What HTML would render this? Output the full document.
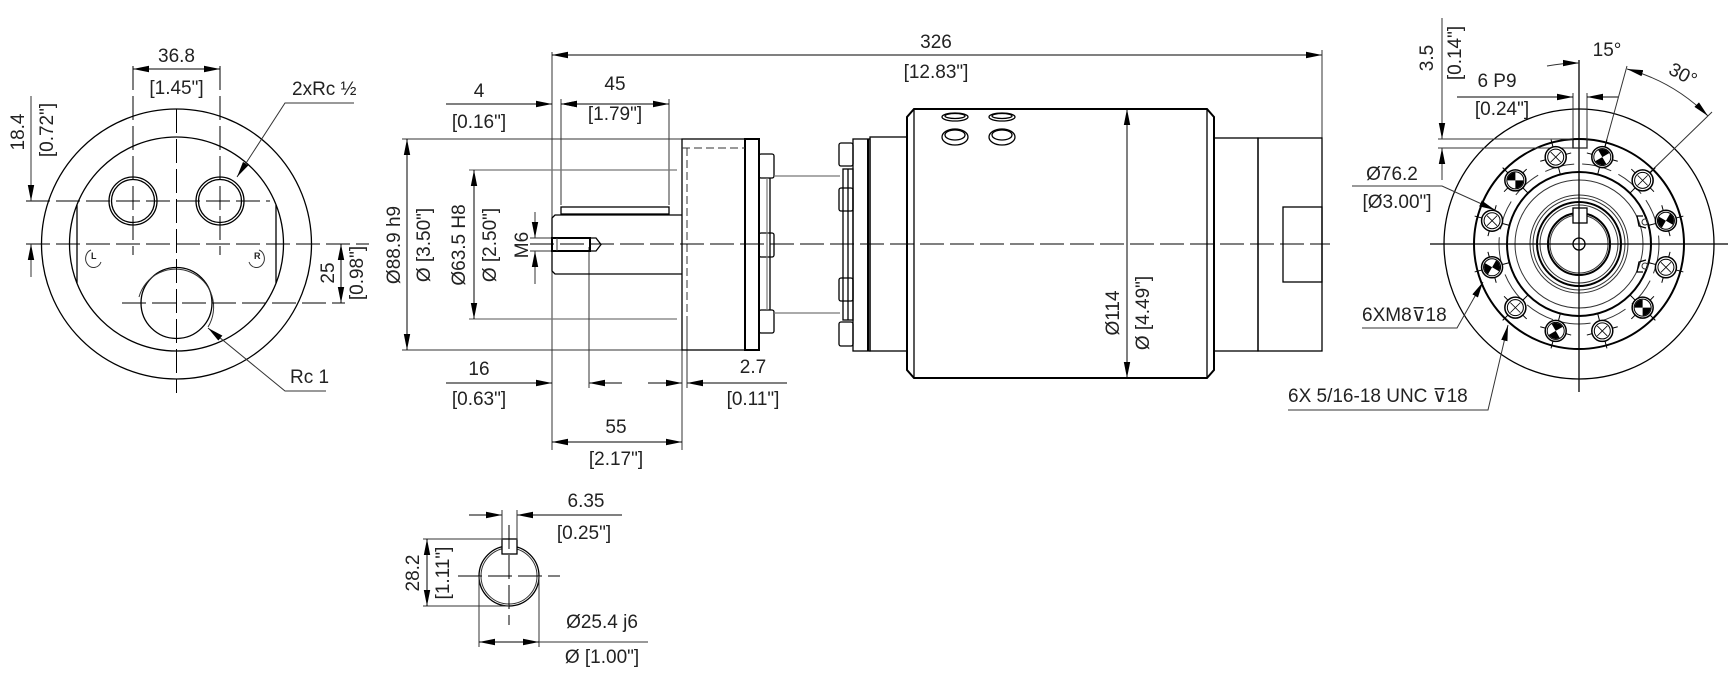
<!DOCTYPE html>
<html><head><meta charset="utf-8"><style>
html,body{margin:0;padding:0;background:#fff}
svg{display:block}
text{font-family:"Liberation Sans Narrow","Liberation Sans",sans-serif;font-size:19px;fill:#222}
.t{stroke:#000;stroke-width:1.3;fill:none}
.b{stroke:#000;stroke-width:2;fill:none}
.n{stroke:#333;stroke-width:1;fill:none}
.g{stroke:#777;stroke-width:1.2;fill:none}
.c{stroke:#000;stroke-width:1;fill:none;stroke-dasharray:24 6}
.d{stroke:#000;stroke-width:1;fill:none;marker-end:url(#a)}
.dd{stroke:#000;stroke-width:1;fill:none;marker-end:url(#a);marker-start:url(#a)}
</style></head><body>
<svg id="s" width="1736" height="678" viewBox="0 0 1736 678" xmlns="http://www.w3.org/2000/svg">
<defs><marker id="a" markerWidth="16" markerHeight="8" refX="16" refY="4" orient="auto-start-reverse" markerUnits="userSpaceOnUse"><path d="M0,0.8 L16,4 L0,7.2 Z" fill="#000"/></marker></defs>

<!-- LEFT VIEW -->
<circle class="t" cx="176.5" cy="244" r="135"/>
<circle class="t" cx="176.5" cy="244" r="107"/>
<circle class="t" cx="133" cy="201" r="24"/><circle class="t" cx="133" cy="201" r="21.5"/>
<circle class="t" cx="220" cy="201" r="24"/><circle class="t" cx="220" cy="201" r="21.5"/>
<circle class="t" cx="176.5" cy="303" r="35.5"/>
<path class="n" d="M139,297 A38,38 0 1 1 208,327"/>
<line class="t" x1="77" y1="205" x2="77" y2="283"/><line class="t" x1="276" y1="205" x2="276" y2="283"/>
<line class="c" x1="176.5" y1="109" x2="176.5" y2="393"/>
<line class="c" x1="26" y1="201" x2="270" y2="201"/>
<line class="c" x1="26" y1="244" x2="369" y2="244"/>
<line class="c" x1="122" y1="303" x2="345" y2="303"/>
<line class="c" x1="133" y1="66" x2="133" y2="255"/>
<line class="c" x1="220" y1="66" x2="220" y2="255"/>
<line class="dd" x1="133" y1="69" x2="220" y2="69"/>
<text x="176.5" y="62" text-anchor="middle">36.8</text>
<text x="176.5" y="94" text-anchor="middle">[1.45"]</text>
<line class="n" x1="31" y1="96" x2="31" y2="201" style="marker-end:url(#a)"/>
<line class="n" x1="31" y1="277" x2="31" y2="244" style="marker-end:url(#a)"/>
<text transform="translate(24,132) rotate(-90)" text-anchor="middle">18.4</text>
<text transform="translate(53,130) rotate(-90)" text-anchor="middle">[0.72"]</text>
<line class="dd" x1="341" y1="244" x2="341" y2="303"/>
<text transform="translate(334,273) rotate(-90)" text-anchor="middle">25</text>
<text transform="translate(363,273) rotate(-90)" text-anchor="middle">[0.98"]</text>
<polyline class="n" points="354,103 285,103 237,177" style="marker-end:url(#a)"/>
<text x="292" y="95">2xRc ½</text>
<polyline class="n" points="326,391 285,391 208,328" style="marker-end:url(#a)"/>
<text x="290" y="383">Rc 1</text>
<g class="n"><path d="M91,250 A8,9 0 1 0 101,262" /><path d="M259,250 A8,9 0 1 1 249,262"/></g>
<text x="91" y="259" style="font-size:9px;font-weight:bold">L</text>
<text x="254" y="259" style="font-size:9px;font-weight:bold">R</text>

<!-- MIDDLE VIEW -->
<line class="n" x1="552" y1="52" x2="552" y2="450"/>
<line class="dd" x1="552" y1="55" x2="1322" y2="55"/>
<line class="n" x1="1322" y1="50" x2="1322" y2="138"/>
<text x="936" y="48" text-anchor="middle">326</text>
<text x="936" y="78" text-anchor="middle">[12.83"]</text>
<line class="d" x1="446" y1="104" x2="552" y2="104"/>
<line class="d" x1="575" y1="104" x2="561" y2="104"/>
<text x="479" y="97" text-anchor="middle">4</text>
<text x="479" y="128" text-anchor="middle">[0.16"]</text>
<line class="n" x1="561" y1="99" x2="561" y2="205"/>
<line class="n" x1="669" y1="99" x2="669" y2="205"/>
<line class="dd" x1="561" y1="104" x2="669" y2="104"/>
<text x="615" y="90" text-anchor="middle">45</text>
<text x="615" y="120" text-anchor="middle">[1.79"]</text>
<line class="n" x1="402" y1="139" x2="682" y2="139"/>
<line class="n" x1="402" y1="350" x2="682" y2="350"/>
<line class="dd" x1="407" y1="139" x2="407" y2="350"/>
<text transform="translate(400,245) rotate(-90)" text-anchor="middle">Ø88.9 h9</text>
<text transform="translate(430,245) rotate(-90)" text-anchor="middle">Ø [3.50"]</text>
<line class="g" x1="469" y1="170" x2="677" y2="170"/>
<line class="g" x1="469" y1="319" x2="677" y2="319"/>
<line class="dd" x1="474" y1="170" x2="474" y2="319"/>
<text transform="translate(465,245) rotate(-90)" text-anchor="middle">Ø63.5 H8</text>
<text transform="translate(496,245) rotate(-90)" text-anchor="middle">Ø [2.50"]</text>
<line class="n" x1="535" y1="212" x2="535" y2="238" style="marker-end:url(#a)"/>
<line class="n" x1="535" y1="284" x2="535" y2="251" style="marker-end:url(#a)"/>
<line class="n" x1="530" y1="238" x2="560" y2="238"/><line class="n" x1="530" y1="251" x2="560" y2="251"/>
<text transform="translate(528,245) rotate(-90)" text-anchor="middle">M6</text>
<line class="d" x1="446" y1="383" x2="552" y2="383"/>
<line class="d" x1="622" y1="383" x2="589" y2="383"/>
<line class="n" x1="589" y1="247" x2="589" y2="388"/>
<text x="479" y="375" text-anchor="middle">16</text>
<text x="479" y="405" text-anchor="middle">[0.63"]</text>
<line class="d" x1="648" y1="383" x2="682" y2="383"/>
<line class="d" x1="787" y1="383" x2="687" y2="383"/>
<line class="n" x1="687" y1="320" x2="687" y2="388"/>
<text x="753" y="373" text-anchor="middle">2.7</text>
<text x="753" y="405" text-anchor="middle">[0.11"]</text>
<line class="n" x1="682" y1="350" x2="682" y2="450"/>
<line class="dd" x1="552" y1="442" x2="682" y2="442"/>
<text x="616" y="433" text-anchor="middle">55</text>
<text x="616" y="465" text-anchor="middle">[2.17"]</text>
<!-- shaft -->
<rect class="t" x="561" y="207" width="108" height="7"/>
<path class="t" d="M682,215 L555,215 L552,218 L552,271 L555,274 L682,274"/>
<rect class="b" x="552" y="238" width="38" height="13"/>
<path class="t" d="M590,238 L596,238 L601,244.5 L596,251 L590,251"/>
<line class="n" x1="557" y1="238" x2="557" y2="251"/>
<!-- flange -->
<rect class="t" x="682" y="139" width="63" height="211"/>
<rect class="b" x="745" y="139" width="14" height="211"/>
<path class="n" d="M682,148 L745,148 M687,148 L687,320" style="stroke-dasharray:8 4"/>
<g class="t">
<rect x="759" y="154" width="15" height="24" rx="2"/><rect x="759" y="233" width="15" height="24" rx="2"/><rect x="759" y="310" width="15" height="23" rx="2"/>
<line x1="767" y1="178" x2="767" y2="310" class="g"/><line x1="770" y1="178" x2="770" y2="310"/>
<line x1="774" y1="176" x2="840" y2="176" class="g"/><line x1="774" y1="313" x2="840" y2="313" class="g"/>
<rect x="839" y="143" width="14" height="23" rx="2"/><rect x="839" y="188" width="14" height="23" rx="2"/><rect x="839" y="278" width="14" height="23" rx="2"/><rect x="839" y="322" width="14" height="24" rx="2"/>
<rect x="843" y="169" width="10" height="151"/><line x1="848" y1="169" x2="848" y2="320"/>
<rect x="853" y="139" width="17" height="212"/>
<line x1="868" y1="139" x2="868" y2="351" class="b"/>
<rect x="870" y="137" width="37" height="214"/>
</g>
<!-- main cylinder -->
<path class="b" d="M914,109 L1207,109 L1214,117 L1214,370 L1207,378 L914,378 L907,370 L907,117 Z"/>
<line class="t" x1="914" y1="109" x2="914" y2="378"/><line class="t" x1="1207" y1="109" x2="1207" y2="378"/>
<g class="t">
<ellipse cx="955" cy="117" rx="13" ry="4"/><ellipse cx="955" cy="116" rx="10" ry="2.5"/>
<ellipse cx="1002" cy="117" rx="13" ry="4"/><ellipse cx="1002" cy="116" rx="10" ry="2.5"/>
<ellipse cx="955" cy="137" rx="13" ry="8"/><ellipse cx="955" cy="135" rx="10" ry="5"/>
<ellipse cx="1002" cy="137" rx="13" ry="8"/><ellipse cx="1002" cy="135" rx="10" ry="5"/>
</g>
<line class="dd" x1="1127" y1="109" x2="1127" y2="378"/>
<text transform="translate(1119,313) rotate(-90)" text-anchor="middle">Ø114</text>
<text transform="translate(1149,313) rotate(-90)" text-anchor="middle">Ø [4.49"]</text>
<rect class="t" x="1214" y="138" width="44" height="213"/>
<rect class="t" x="1258" y="138" width="64" height="213"/>
<rect class="t" x="1283" y="207" width="39" height="75"/>
<line class="c" x1="530" y1="244" x2="1330" y2="244"/>

<!-- RIGHT VIEW -->
<g id="rv">
<circle class="t" cx="1579" cy="244" r="135"/>
<circle class="b" cx="1579" cy="244" r="105"/>
<circle class="n" cx="1579" cy="244" r="80" style="stroke-dasharray:30 8"/>
<circle class="b" cx="1579" cy="244" r="72"/>
<circle class="n" cx="1579" cy="244" r="64"/>
<circle class="n" cx="1579" cy="244" r="49"/><circle class="n" cx="1579" cy="244" r="46"/>
<circle class="b" cx="1579" cy="244" r="42"/><circle class="n" cx="1579" cy="244" r="39"/>
<circle class="b" cx="1579" cy="244" r="31"/><circle class="n" cx="1579" cy="244" r="29"/>
<circle class="t" cx="1579" cy="244" r="6"/>
<rect class="t" x="1573" y="208" width="14" height="15" fill="#fff" style="fill:#fff"/>
<rect class="t" x="1573" y="139" width="14" height="9"/>
<line class="n" x1="1573" y1="93" x2="1573" y2="139"/><line class="n" x1="1587" y1="93" x2="1587" y2="148"/>
<line class="t" x1="1579" y1="60" x2="1579" y2="392"/>
<line class="t" x1="1430" y1="244" x2="1728" y2="244"/>
<path class="t" d="M1643,216 L1637,216 L1639,226 L1646,228 M1643,272 L1637,272 L1639,262 L1646,260"/>
<circle class="n" cx="1645" cy="222" r="3"/><circle class="n" cx="1645" cy="266" r="3"/>
</g>
<line class="n" x1="1442" y1="18" x2="1442" y2="139" style="marker-end:url(#a)"/>
<line class="n" x1="1442" y1="180" x2="1442" y2="148" style="marker-end:url(#a)"/>
<line class="n" x1="1438" y1="139" x2="1573" y2="139"/><line class="n" x1="1438" y1="148" x2="1587" y2="148"/>
<text transform="translate(1433,58) rotate(-90)" text-anchor="middle">3.5</text>
<text transform="translate(1461,53) rotate(-90)" text-anchor="middle">[0.14"]</text>
<line class="d" x1="1457" y1="97" x2="1573" y2="97"/>
<line class="d" x1="1618" y1="97" x2="1587" y2="97"/>
<text x="1497" y="87" text-anchor="middle">6 P9</text>
<text x="1502" y="115" text-anchor="middle">[0.24"]</text>
<path class="n" d="M1547,66 A181,181 0 0 1 1579,63" style="marker-end:url(#a)"/>
<path class="n" d="M1627,69 A181,181 0 0 1 1708,116" style="marker-end:url(#a);marker-start:url(#a)"/>
<line class="n" x1="1627" y1="66" x2="1602" y2="157"/>
<line class="n" x1="1712" y1="112" x2="1642" y2="180"/>
<text x="1607" y="56" text-anchor="middle">15°</text>
<text transform="translate(1680,80) rotate(28)" text-anchor="middle">30°</text>
<polyline class="n" points="1352,186 1442,186 1495,210" style="marker-end:url(#a)"/>
<text x="1392" y="180" text-anchor="middle">Ø76.2</text>
<text x="1397" y="208" text-anchor="middle">[Ø3.00"]</text>
<polyline class="n" points="1362,328 1457,328 1483,282" style="marker-end:url(#a)"/>
<text x="1362" y="321">6XM8⊽18</text>
<polyline class="n" points="1288,410 1488,410 1508,325" style="marker-end:url(#a)"/>
<text x="1288" y="402">6X 5/16-18 UNC ⊽18</text>

<!-- BOTTOM KEY SECTION -->
<circle class="t" cx="509" cy="576" r="30"/><circle class="n" cx="509" cy="576" r="28"/>
<rect class="t" x="502" y="539" width="15" height="15" style="fill:#fff"/>
<line class="c" x1="458" y1="576" x2="560" y2="576"/>
<line class="c" x1="509" y1="525" x2="509" y2="625"/>
<line class="d" x1="469" y1="515" x2="502" y2="515"/>
<line class="d" x1="622" y1="515" x2="517" y2="515"/>
<line class="n" x1="502" y1="510" x2="502" y2="540"/><line class="n" x1="517" y1="510" x2="517" y2="540"/>
<text x="586" y="507" text-anchor="middle">6.35</text>
<text x="584" y="539" text-anchor="middle">[0.25"]</text>
<line class="n" x1="423" y1="539" x2="502" y2="539"/><line class="n" x1="423" y1="606" x2="509" y2="606"/>
<line class="dd" x1="427" y1="539" x2="427" y2="606"/>
<text transform="translate(419,573) rotate(-90)" text-anchor="middle">28.2</text>
<text transform="translate(449,573) rotate(-90)" text-anchor="middle">[1.11"]</text>
<line class="n" x1="479" y1="576" x2="479" y2="647"/><line class="n" x1="539" y1="576" x2="539" y2="647"/>
<line class="dd" x1="479" y1="642" x2="539" y2="642"/>
<line class="n" x1="539" y1="642" x2="648" y2="642"/>
<text x="602" y="628" text-anchor="middle">Ø25.4 j6</text>
<text x="602" y="663" text-anchor="middle">Ø [1.00"]</text>
</svg>
<script>
(function(){
var s=document.getElementById('s'),NS='http://www.w3.org/2000/svg',cx=1579,cy=244;
function el(n,a){var e=document.createElementNS(NS,n);for(var k in a)e.setAttribute(k,a[k]);s.appendChild(e);return e;}
for(var i=0;i<12;i++){
 var ang=(15+30*i)*Math.PI/180,x=cx+90*Math.sin(ang),y=cy-90*Math.cos(ang);
 var ux=Math.sin(ang),uy=-Math.cos(ang),tx=Math.cos(ang),ty=Math.sin(ang);
 el('line',{x1:x-ux*18,y1:y-uy*18,x2:x+ux*18,y2:y+uy*18,stroke:'#000','stroke-width':1});
 el('line',{x1:x-tx*16,y1:y-ty*16,x2:x+tx*16,y2:y+ty*16,stroke:'#000','stroke-width':1});
 el('circle',{cx:x,cy:y,r:10.5,fill:'#fff',stroke:'#000','stroke-width':1.5});
 if(i%2==0){
  var r=8,a1=ang+Math.PI/4;
  for(var q=0;q<2;q++){var b=a1+q*Math.PI;
   var p='M'+x+','+y+' L'+(x+r*Math.cos(b))+','+(y+r*Math.sin(b))+' A'+r+','+r+' 0 0 1 '+(x+r*Math.cos(b+Math.PI/2))+','+(y+r*Math.sin(b+Math.PI/2))+' Z';
   el('path',{d:p,fill:'#000'});}
  el('circle',{cx:x,cy:y,r:8.5,fill:'none',stroke:'#000','stroke-width':1});
 } else {
  el('circle',{cx:x,cy:y,r:8,fill:'none',stroke:'#000','stroke-width':1});
  el('line',{x1:x-5,y1:y-5,x2:x+5,y2:y+5,stroke:'#000','stroke-width':0.8});
  el('line',{x1:x-5,y1:y+5,x2:x+5,y2:y-5,stroke:'#000','stroke-width':0.8});
 }
}
})();
</script>
</body></html>
